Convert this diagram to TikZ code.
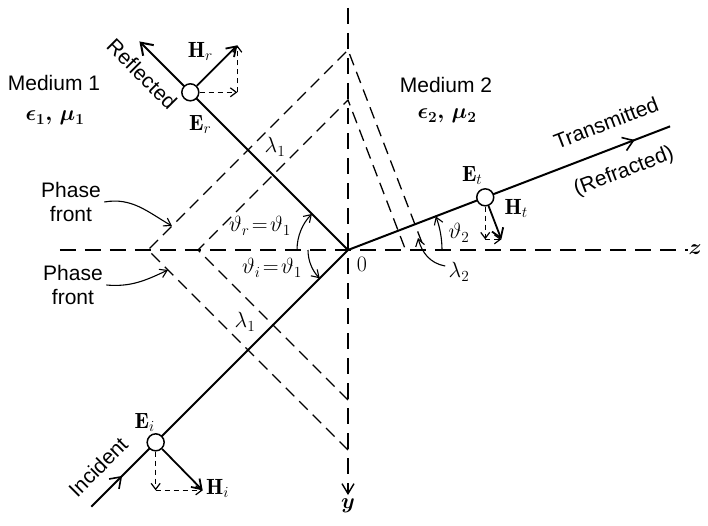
\RequirePackage{fix-cm}
\documentclass[tikz,border=0pt]{standalone}
\usepackage{amsmath}
\usepackage{bm}
\usepackage{fontspec}
\setsansfont{Liberation Sans}
\usetikzlibrary{arrows.meta,calc,positioning,decorations.markings}

\begin{document}
\begin{tikzpicture}[x=1pt,y=1pt,font=\fontsize{22}{26}\selectfont,
  ray/.style={line width=2pt},
  axis/.style={line width=1.4pt,dash pattern=on 16pt off 9pt},
  front/.style={line width=1.3pt,dash pattern=on 12pt off 7pt},
  vec/.style={-{Straight Barb[length=9pt,width=12pt]},line width=1.8pt},
  comp/.style={-{Straight Barb[length=6pt,width=9pt]},line width=1.2pt,dash pattern=on 5pt off 4pt},
  ang/.style={-{Straight Barb[length=7pt,width=9pt]},line width=1.1pt},
  midarr/.style={postaction={decorate},decoration={markings,
    mark=at position #1 with {\arrow{Straight Barb[length=10pt,width=14pt,line width=1.6pt]}}}},
  dotE/.style={circle,draw,line width=1.5pt,fill=white,minimum size=17pt,inner sep=0pt,
    path picture={\fill (path picture bounding box.center) circle (2.6pt);}},
  txt/.style={font=\sffamily\fontsize{21}{24}\selectfont,align=center}]
  \useasboundingbox (-348,-275) rectangle (360,250);
  % axes
  \coordinate (O) at (0,0);
  \coordinate (zl) at (-288,0);
  \coordinate (zr) at (340,0);
  \coordinate (yt) at (0,242);
  \coordinate (yb) at (0,-245);
  \draw[axis] (zl) -- (zr);
  \draw[axis,-{Straight Barb[length=10pt,width=12pt]}] (yt) -- (yb);
  \node[right=-3pt of zr] (zlbl) {$\bm{z}$};
  \node[below=0pt of yb] (ylbl) {$\bm{y}$};
  % phase fronts
  \coordinate (f1d) at (0,-200); \coordinate (f1l) at (-200,0);
  \coordinate (f1u) at (0,200);  \coordinate (f1t) at ({200*tan(21)},0);
  \coordinate (f2d) at (0,-150); \coordinate (f2l) at (-150,0);
  \coordinate (f2u) at (0,150);  \coordinate (f2t) at ({150*tan(21)},0);
  \draw[front] (f1d) -- (f1l) -- (f1u) -- (f1t);
  \draw[front] (f2d) -- (f2l) -- (f2u) -- (f2t);
  % rays
  \coordinate (Rend) at (135:295);
  \coordinate (Iend) at (225:363);
  \coordinate (Tend) at (21:345);
  \draw[ray,-{Straight Barb[length=11pt,width=15pt]}] (O) -- (Rend);
  \draw[ray,midarr=0.12] (Iend) -- (O);
  \draw[ray,midarr=0.89] (O) -- (Tend);
  \node[txt,rotate=-45] (rlbl) at (-206,176) {Reflected};
  \node[txt,rotate=45] (ilbl) at (-250,-217) {Incident};
  \node[txt,rotate=21] (tlbl) at (258,127) {Transmitted};
  \node[txt,rotate=21] (tlbl2) at (276,78) {(Refracted)};
  % field vectors
  \node[dotE] (Er) at (135:223) {};
  \node[dotE] (Ei) at (225:272) {};
  \node[dotE] (Et) at (21:147) {};
  \coordinate (Hr) at ($(Er)+(47,47)$);
  \coordinate (Hrc) at (Hr |- Er);
  \draw[vec] (Er) -- (Hr);
  \draw[comp] (Er) -- (Hrc);
  \draw[comp] (Hrc) -- (Hr);
  \coordinate (Hi) at ($(Ei)+(47,-48)$);
  \coordinate (Hic) at (Ei |- Hi);
  \draw[vec] (Ei) -- (Hi);
  \draw[comp] (Ei) -- (Hic);
  \draw[comp] (Hic) -- (Hi);
  \coordinate (Ht) at ($(Et)+(-69:45)$);
  \coordinate (Htc) at (Et |- Ht);
  \draw[vec] (Et) -- (Ht);
  \draw[comp] (Et) -- (Htc);
  \draw[comp] (Htc) -- (Ht);
  \node (Erl) at ($(Er)+(10,-32)$) {$\mathbf{E}_r$};
  \node (Hrl) at ($(Er)+(10,41)$) {$\mathbf{H}_r$};
  \node (Eil) at ($(Ei)+(-11,20)$) {$\mathbf{E}_i$};
  \node[right=0pt of Hi,yshift=2pt] (Hil) {$\mathbf{H}_i$};
  \node (Etl) at ($(Et)+(-13,22)$) {$\mathbf{E}_t$};
  \node (Htl) at ($(Et)+(31,-11)$) {$\mathbf{H}_t$};
  % angles
  \draw[ang] ($(O)+(180:51)$) arc[start angle=180,end angle=135,radius=51];
  \draw[ang] ($(O)+(180:40)$) arc[start angle=180,end angle=225,radius=40];
  \draw[ang] ($(O)+(0:94)$) arc[start angle=0,end angle=21,radius=94];
  \node (thr) at (-88,24) {$\vartheta_r\!=\!\vartheta_1$};
  \node (thi) at (-76,-18) {$\vartheta_i\!=\!\vartheta_1$};
  \node (th2) at (111,17) {$\vartheta_2$};
  \node (olbl) at (14,-14) {$0$};
  % wavelengths
  \node (lam1r) at (-73,103) {$\lambda_1$};
  \node (lam1i) at (-103,-72) {$\lambda_1$};
  \node (lam2) at (111,-22) {$\lambda_2$};
  \coordinate (l2tip) at (70,12);
  \draw[ang] ([yshift=6pt]lam2.west) to[out=170,in=-75] (l2tip);
  % media
  \node[txt] (med1) at (-294,167) {Medium 1};
  \node (eps1) at (-293,132) {$\bm{\epsilon_1,\,\mu_1}$};
  \node[txt] (med2) at (98,165) {Medium 2};
  \node (eps2) at (99,134) {$\bm{\epsilon_2,\,\mu_2}$};
  % phase front labels
  \node[txt] (pfu) at (-277,48) {Phase\\front};
  \node[txt] (pfl) at (-275,-35) {Phase\\front};
  \coordinate (pfu1) at ($(f1l)!0.12!(f1u)$);
  \coordinate (pfl1) at ($(f1l)!0.1!(f1d)$);
  \draw[ang] (pfu.east) to[out=10,in=150] (pfu1);
  \draw[ang] (pfl.east) to[out=-5,in=205] (pfl1);
\end{tikzpicture}
\end{document}
